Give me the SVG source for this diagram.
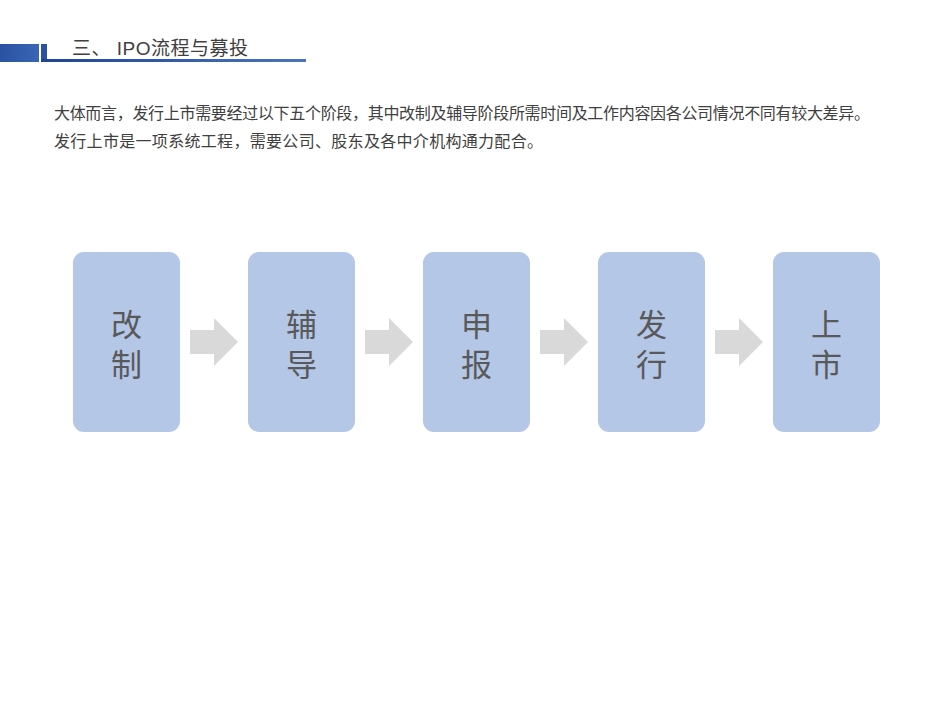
<svg xmlns="http://www.w3.org/2000/svg" width="949" height="710" viewBox="0 0 949 710">
<defs>
<linearGradient id="hb" x1="0" y1="0" x2="1" y2="0">
<stop offset="0" stop-color="#2a52a0"/>
<stop offset="1" stop-color="#3a66b8"/>
</linearGradient>
<linearGradient id="hl" x1="0" y1="0" x2="1" y2="0">
<stop offset="0" stop-color="#1f4494"/>
<stop offset="1" stop-color="#4a74c0"/>
</linearGradient>
</defs>
<style>
.t{font-family:"Liberation Sans","Noto Sans CJK SC",sans-serif;fill:#404040}
.box{fill:#B4C7E7}
.lbl{font-family:"Liberation Sans","Noto Sans CJK SC",sans-serif;font-size:31px;fill:#595959;text-anchor:middle}
.arr{fill:#D9D9D9}
</style>
<rect width="949" height="710" fill="#ffffff"/>
<g id="header">
<rect x="0" y="44" width="39" height="18" fill="url(#hb)"/>
<rect x="41" y="44" width="6" height="18" fill="#2a52a0"/>
<rect x="41" y="59" width="265" height="3" fill="url(#hl)"/>
<text class="t" x="72" y="55" font-size="19" textLength="176" lengthAdjust="spacing">三、  IPO流程与募投</text>
</g>
<g id="intro">
<text class="t" x="54" y="119" font-size="16" textLength="816" lengthAdjust="spacing">大体而言，发行上市需要经过以下五个阶段，其中改制及辅导阶段所需时间及工作内容因各公司情况不同有较大差异。</text>
<text class="t" x="54" y="147" font-size="16" textLength="489" lengthAdjust="spacing">发行上市是一项系统工程，需要公司、股东及各中介机构通力配合。</text>
</g>
<g id="connectors">
<polygon class="arr" points="190,330 214,330 214,318 238,342 214,366 214,354 190,354"/>
<polygon class="arr" points="365,330 389,330 389,318 413,342 389,366 389,354 365,354"/>
<polygon class="arr" points="540,330 564,330 564,318 588,342 564,366 564,354 540,354"/>
<polygon class="arr" points="715,330 739,330 739,318 763,342 739,366 739,354 715,354"/>
</g>
<g id="n1"><rect class="box" x="73" y="252" width="107" height="180" rx="11"/><text class="lbl" x="126.5" y="336">改</text><text class="lbl" x="126.5" y="376">制</text></g>
<g id="n2"><rect class="box" x="248" y="252" width="107" height="180" rx="11"/><text class="lbl" x="301.5" y="336">辅</text><text class="lbl" x="301.5" y="376">导</text></g>
<g id="n3"><rect class="box" x="423" y="252" width="107" height="180" rx="11"/><text class="lbl" x="476.5" y="336">申</text><text class="lbl" x="476.5" y="376">报</text></g>
<g id="n4"><rect class="box" x="598" y="252" width="107" height="180" rx="11"/><text class="lbl" x="651.5" y="336">发</text><text class="lbl" x="651.5" y="376">行</text></g>
<g id="n5"><rect class="box" x="773" y="252" width="107" height="180" rx="11"/><text class="lbl" x="826.5" y="336">上</text><text class="lbl" x="826.5" y="376">市</text></g>
</svg>
